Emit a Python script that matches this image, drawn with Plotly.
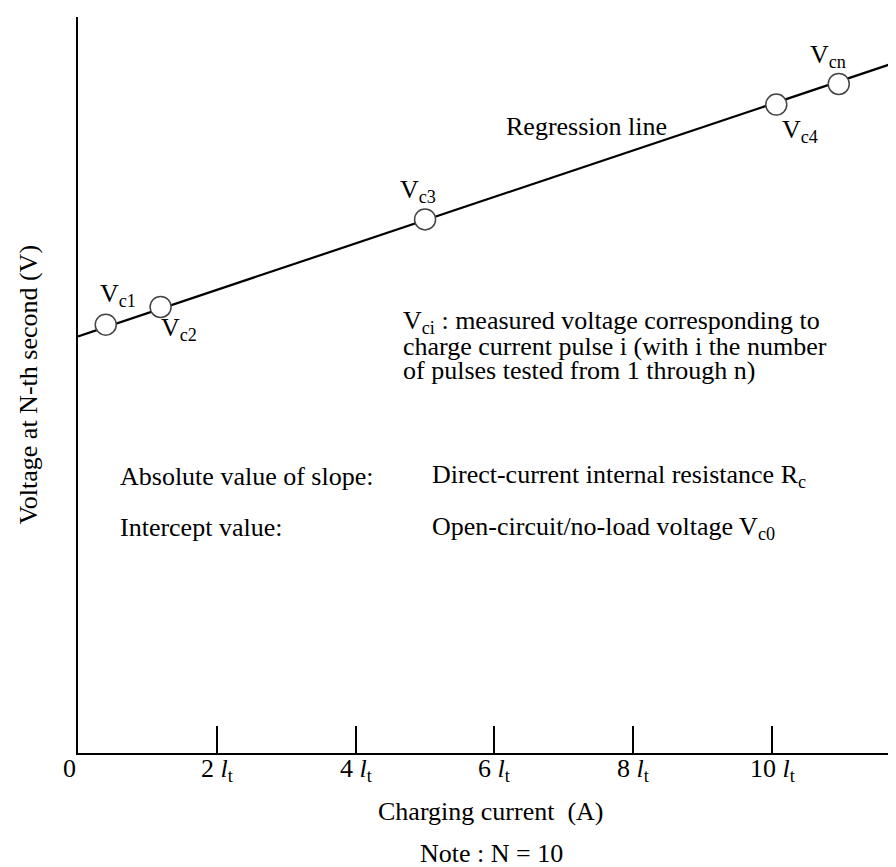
import plotly.graph_objects as go

# ---------------------------------------------------------------------------
# Data (x in multiples of l_t, y in arbitrary volts)
# ---------------------------------------------------------------------------
point_names = ["c1", "c2", "c3", "c4", "cn"]
point_x = [0.40, 1.19, 5.00, 10.06, 10.96]
point_y = [5.82, 6.06, 7.25, 8.81, 9.09]

# regression line: intercept and slope, drawn from x=0 to the right end
reg_intercept = 5.66
reg_slope = 0.316
reg_x = [0.0, 11.74]

tick_vals = [2, 4, 6, 8, 10]
tick_text = [f"{v} <i>l</i><sub>t</sub>" for v in tick_vals]

FONT = "Liberation Serif, Times New Roman, serif"
FS = 26

fig = go.Figure()

reg_y = [reg_intercept + reg_slope * x for x in reg_x]
fig.add_trace(
    go.Scatter(
        x=reg_x,
        y=reg_y,
        mode="lines",
        line=dict(color="black", width=2.2),
        hoverinfo="skip",
        showlegend=False,
    )
)
fig.add_trace(
    go.Scatter(
        x=point_x,
        y=point_y,
        mode="markers",
        marker=dict(
            symbol="circle",
            size=21,
            color="white",
            line=dict(color="#444444", width=1.5),
        ),
        hoverinfo="skip",
        showlegend=False,
    )
)

# point labels (offsets from each point, in data units)
label_offsets = {
    "c1": (0.18, 0.40),
    "c2": (0.26, -0.30),
    "c3": (-0.10, 0.39),
    "c4": (0.34, -0.36),
    "cn": (-0.16, 0.38),
}
annotations = []
for name, x, y in zip(point_names, point_x, point_y):
    dx, dy = label_offsets[name]
    annotations.append(
        dict(
            x=x + dx,
            y=y + dy,
            xref="x",
            yref="y",
            text=f"V<sub>{name}</sub>",
            showarrow=False,
            xanchor="center",
            yanchor="middle",
        )
    )

annotations.append(
    dict(x=7.32, y=8.51, xref="x", yref="y", text="Regression line",
         showarrow=False, xanchor="center", yanchor="middle")
)

para = [
    "V<sub>ci</sub> : measured voltage corresponding to",
    "charge current pulse i (with i the number",
    "of pulses tested from 1 through n)",
]
para_y = [5.85, 5.52, 5.20]
for txt, y in zip(para, para_y):
    annotations.append(
        dict(x=4.65, y=y, xref="x", yref="y", text=txt, showarrow=False,
             xanchor="left", yanchor="middle")
    )

rows = [
    ("Absolute value of slope:", "Direct-current internal resistance R<sub>c</sub>", 3.76),
    ("Intercept value:", "Open-circuit/no-load voltage V<sub>c0</sub>", 3.06),
]
for left, right, y in rows:
    annotations.append(
        dict(x=0.58, y=y, xref="x", yref="y", text=left, showarrow=False,
             xanchor="left", yanchor="middle")
    )
    annotations.append(
        dict(x=5.07, y=y, xref="x", yref="y", text=right, showarrow=False,
             xanchor="left", yanchor="middle")
    )

# x tick labels (ticks themselves come from the axis)
for v, t in zip(tick_vals, tick_text):
    annotations.append(
        dict(x=v, y=0.002, xref="x", yref="paper", text=t, showarrow=False,
             xanchor="center", yanchor="top")
    )
annotations.append(
    dict(x=-0.0097, y=0.002, xref="paper", yref="paper", text="0",
         showarrow=False, xanchor="center", yanchor="top")
)

# axis titles and note
annotations.append(
    dict(x=0.5, y=-0.079, xref="paper", yref="paper",
         text="Charging current&nbsp;&nbsp;(A)", showarrow=False,
         xanchor="center", yanchor="middle")
)
annotations.append(
    dict(x=0.5, y=-0.136, xref="paper", yref="paper",
         text="Note : N = 10", showarrow=False,
         xanchor="center", yanchor="middle")
)
annotations.append(
    dict(x=-0.061, y=0.5, xref="paper", yref="paper",
         text="Voltage at N-th second (V)", textangle=-90, showarrow=False,
         xanchor="center", yanchor="middle")
)

fig.update_layout(
    width=896,
    height=867,
    margin=dict(l=70, r=0, t=9, b=122),
    paper_bgcolor="white",
    plot_bgcolor="white",
    font=dict(family=FONT, size=FS, color="black"),
    annotations=annotations,
    showlegend=False,
)
fig.update_xaxes(
    range=[0, 11.90],
    showgrid=False,
    zeroline=False,
    showline=True,
    linecolor="black",
    linewidth=2,
    ticks="inside",
    ticklen=27,
    tickwidth=2,
    tickcolor="black",
    tickvals=tick_vals,
    showticklabels=False,
)
fig.update_yaxes(
    range=[0, 10],
    showgrid=False,
    zeroline=False,
    showline=True,
    linecolor="black",
    linewidth=2,
    showticklabels=False,
    ticks="",
)

fig.write_html("out.html")
